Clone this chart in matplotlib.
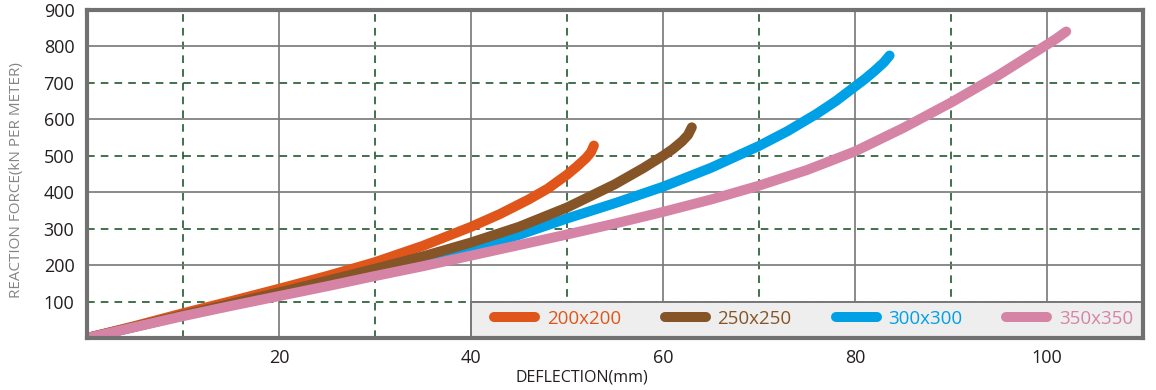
import matplotlib
matplotlib.use("Agg")
import matplotlib.pyplot as plt
from matplotlib.patches import Rectangle

# ---------------- data ----------------
series_names = ["200x200", "250x250", "300x300", "350x350"]

x_200 = [0, 5, 10, 15, 20, 25, 30, 35, 40, 43, 46, 48, 50, 51, 52, 52.5, 52.8]
y_200 = [0, 33, 68, 101, 135, 170, 208, 253, 305, 340, 380, 410, 448, 470, 494, 510, 528]

x_250 = [0, 5, 10, 15, 20, 25, 30, 35, 40, 45, 50, 55, 58, 60, 61, 62, 62.6, 63]
y_250 = [0, 31, 63, 94, 125, 157, 190, 224, 262, 305, 358, 422, 467, 500, 518, 540, 557, 578]

x_300 = [0, 5, 10, 15, 20, 25, 30, 35, 40, 45, 50, 55, 60, 65, 70, 73, 76, 78, 80, 81,
         82, 83, 83.6]
y_300 = [0, 31, 62, 92, 120, 150, 180, 210, 242, 283, 328, 370, 415, 467, 527, 568, 615,
         650, 690, 710, 732, 756, 775]

x_350 = [0, 5, 10, 15, 20, 25, 30, 35, 40, 45, 50, 55, 60, 65, 70, 75, 80, 85, 90, 95,
         100, 101, 102]
y_350 = [0, 30, 60, 88, 115, 142, 170, 197, 226, 255, 284, 314, 346, 380, 418, 461, 512,
         576, 646, 722, 805, 822, 841]

x_label_ticks = [20, 40, 60, 80, 100]
x_dash_grid = [10, 30, 50, 70, 90]
y_label_ticks = [100, 200, 300, 400, 500, 600, 700, 800, 900]
y_solid_grid = [200, 400, 600, 800]
y_dash_grid = [100, 300, 500, 700]

colors = ["#E0561A", "#855427", "#00A0E6", "#D684A6"]

plt.rcParams["font.family"] = ["Open Sans", "DejaVu Sans"]

fig = plt.figure(figsize=(11.56, 3.90), dpi=100)
ax = fig.add_axes([87 / 1156, 1 - 338 / 390, (1143 - 87) / 1156, (338 - 10) / 390])
ax.set_xlim(0, 110)
ax.set_ylim(0, 900)

grid_gray = "#777777"
grid_green = "#0E4A1C"
for xv in x_label_ticks:
    ax.axvline(xv, color=grid_gray, lw=1.2, zorder=1)
for xv in x_dash_grid:
    ax.axvline(xv, color=grid_green, lw=1.1, ls=(0, (5, 4)), zorder=1)
for yv in y_solid_grid:
    ax.axhline(yv, color=grid_gray, lw=1.2, zorder=1)
for yv in y_dash_grid:
    ax.axhline(yv, color=grid_green, lw=1.1, ls=(0, (5, 4)), zorder=1)

# legend background box
ax.add_patch(Rectangle((40, 0), 70, 100, facecolor="#EEEEEE", edgecolor=grid_gray,
                       lw=1.4, zorder=2))

xs = [x_200, x_250, x_300, x_350]
ys = [y_200, y_250, y_300, y_350]
zs = [4, 5, 3, 6]
lines = []
for xd, yd, c, name, z in zip(xs, ys, colors, series_names, zs):
    ln, = ax.plot(xd, yd, color=c, lw=7.2, solid_capstyle="round",
                  solid_joinstyle="round", label=name, zorder=z)
    lines.append(ln)

ax.set_xticks(x_label_ticks)
ax.set_xticklabels([str(v) for v in x_label_ticks])
ax.set_yticks(y_label_ticks)
ax.set_yticklabels([str(v) for v in y_label_ticks])
ax.tick_params(axis="both", length=0, labelsize=13, colors="#231F20")
ax.tick_params(axis="y", pad=9)
ax.tick_params(axis="x", pad=8)

for s in ax.spines.values():
    s.set_color("#717171")
    s.set_linewidth(3.0)
    s.set_zorder(10)

fig.text(17 / 1156, 1 - 180 / 390, "REACTION FORCE(kN PER METER)", rotation=90,
         ha="center", va="center", fontsize=11, color="#858585")
fig.text(582 / 1156, 1 - 378 / 390, "DEFLECTION(mm)", ha="center", va="center",
         fontsize=11.5, color="#231F20")

leg = ax.legend(handles=lines, loc="center", bbox_to_anchor=(0.688, 0.058), ncol=4,
                frameon=False, fontsize=13.5, handlelength=2.2, handletextpad=0.6,
                columnspacing=2.35, borderaxespad=0, borderpad=0)
leg.set_zorder(7)
for t, c in zip(leg.get_texts(), colors):
    t.set_color(c)

fig.savefig("out.png", dpi=100)
